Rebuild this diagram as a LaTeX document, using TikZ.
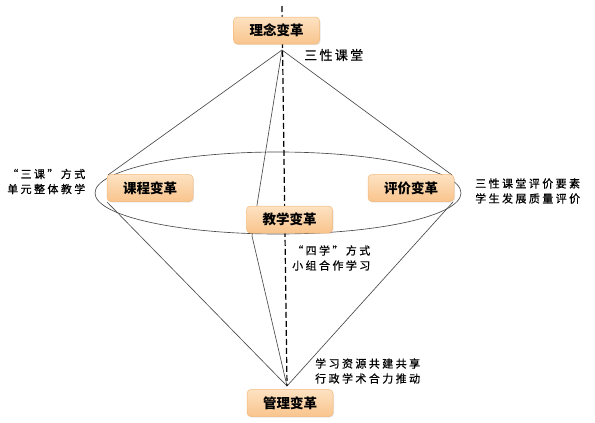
\documentclass[tikz,border=0pt]{standalone}
\usepackage{fontspec}
\newfontfamily\cjk{Noto Sans CJK SC}
\usetikzlibrary{shadows}
\definecolor{boxtop}{HTML}{FDE2C2}
\definecolor{boxbot}{HTML}{F9C48C}
\definecolor{boxline}{HTML}{F3B878}
\definecolor{linegray}{HTML}{4A4A4A}
\tikzset{
  changebox/.style={rounded corners=4pt, draw=boxline, line width=0.5pt,
    top color=boxtop, bottom color=boxbot, minimum width=86pt, minimum height=27pt,
    inner sep=0pt, font=\cjk\bfseries\fontsize{13.5}{15}\selectfont,
    drop shadow={opacity=0.18, shadow xshift=1pt, shadow yshift=-1.2pt}},
  note/.style={align=left, inner sep=0pt, anchor=west,
    font=\cjk\addfontfeatures{LetterSpace=22,FakeBold=0.6}\fontsize{11}{15}\selectfont},
  bignote/.style={inner sep=0pt, anchor=west,
    font=\cjk\addfontfeatures{LetterSpace=18,FakeBold=0.6}\fontsize{13}{15}\selectfont},
  edge/.style={draw=linegray, line width=0.65pt},
  axis/.style={draw=black, line width=1.2pt, dash pattern=on 6pt off 3pt}
}
\begin{document}
\begin{tikzpicture}[x=1pt,y=-1pt]
\useasboundingbox (0,0) rectangle (595,423);
% key points
\coordinate (apexT) at (282,50);
\coordinate (apexB) at (287,386);
\coordinate (dashTop) at (282,6);
\coordinate (L1) at (108,175);
\coordinate (L2) at (107,202);
\coordinate (R1) at (452,175);
\coordinate (R2) at (453,202);
\coordinate (F) at (252,236);
% ellipse
\draw[edge] (278,193) ellipse [x radius=183pt, y radius=41pt];
% pyramid edges
\draw[edge] (apexT) -- (L1);
\draw[edge] (apexT) -- (R1);
\draw[edge] (apexT) -- (F);
\draw[edge] (apexB) -- (L2);
\draw[edge] (apexB) -- (R2);
\draw[edge] (apexB) -- (F);
% axis
\draw[axis] (dashTop) -- (apexB);
% boxes
\node[changebox] (idea) at (276.5,30.5) {理念变革};
\node[changebox] (course) at (150,188) {课程变革};
\node[changebox] (eval) at (411,188) {评价变革};
\node[changebox] (teach) at (289.5,219.5) {教学变革};
\node[changebox] (manage) at (290,403) {管理变革};
% notes
\node[bignote] (n1) at (304,55) {三性课堂};
\node[note] (n2) at (7,181.5) {“三课”方式\\单元整体教学};
\node[note] (n3) at (475,191) {三性课堂评价要素\\学生发展质量评价};
\node[note] (n4) at (292,258) {“四学”方式\\小组合作学习};
\node[note] (n5) at (315,371) {学习资源共建共享\\行政学术合力推动};
\end{tikzpicture}
\end{document}
